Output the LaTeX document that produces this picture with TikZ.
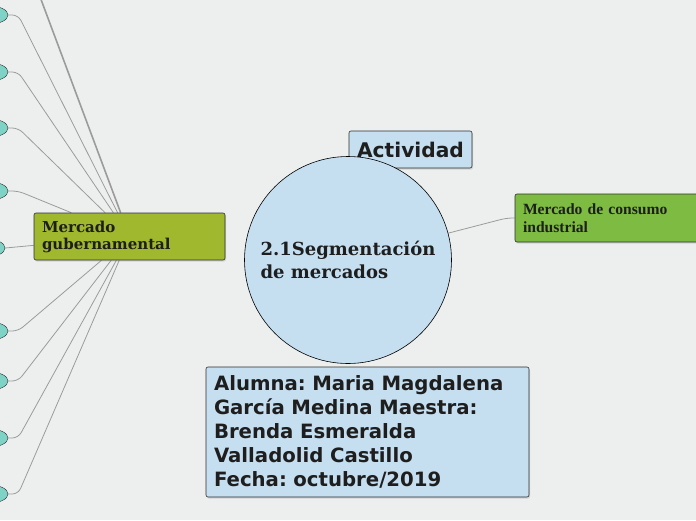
\documentclass[tikz,border=0pt]{standalone}
\usepackage{fontspec}
\setmainfont{DejaVu Serif}
\newfontfamily\mapsans{DejaVu Sans}
\newfontfamily\maptimes{Liberation Serif}
\usetikzlibrary{backgrounds,shapes.geometric,shadows}
\definecolor{MapBack}{HTML}{EDEFEF}
\definecolor{MapBlue}{HTML}{C5DFF1}
\definecolor{MapOlive}{HTML}{A0B82E}
\definecolor{MapGreen}{HTML}{7DBB42}
\definecolor{MapTeal}{HTML}{7ED3C6}
\definecolor{MapLine}{HTML}{9B9B9B}
\definecolor{MapEdge}{HTML}{2E2E2E}
\definecolor{MapText}{HTML}{1E1E1E}
\frenchspacing
\tikzset{
  topicbox/.style={draw=MapEdge,semithick,rounded corners=2pt,align=left,
    inner xsep=8pt,inner ysep=0pt,text=MapText,
    drop shadow={shadow xshift=1pt,shadow yshift=-1.5pt,opacity=.25}},
  olivebox/.style={topicbox,fill=MapOlive,font=\bfseries\fontsize{15}{17}\selectfont},
  greenbox/.style={topicbox,fill=MapGreen,font=\maptimes\bfseries\fontsize{15.6}{18}\selectfont},
  bluebox/.style={topicbox,fill=MapBlue,font=\mapsans\bfseries\fontsize{19.7}{24}\selectfont},
  central/.style={circle,draw=black,semithick,fill=MapBlue,align=left,inner sep=0pt,
    text=MapText,font=\bfseries\fontsize{18}{23}\selectfont},
  leaf/.style={ellipse,draw=MapEdge,fill=MapTeal,minimum width=36pt,minimum height=18pt,inner sep=0pt},
  leaflink/.style={draw=MapLine,line width=.8pt,rounded corners=6pt},
  mainlink/.style={draw=MapLine,line width=1.6pt}
}
\begin{document}
\begin{tikzpicture}[x=1pt,y=-1pt]
  \useasboundingbox (0,0) rectangle (696,520);

  \node[olivebox,text width=175pt,minimum height=47pt] (gob) at (129.5,236.5) {Mercado\\gubernamental};
  \node[greenbox,text width=174pt,minimum height=48pt] (indus) at (610,218) {Mercado de consumo\\industrial};
  \node[bluebox,align=center,inner xsep=0pt,minimum width=123pt,minimum height=37pt,
    font=\mapsans\bfseries\fontsize{20.2}{24}\selectfont] (act) at (410.5,149.5) {Actividad};
  \node[central,minimum size=207pt] (seg) at (348,260) {2.1Segmentación\\de mercados};
  \node[bluebox,text width=307pt,minimum height=130pt] (info) at (367.5,432)
    {Alumna: Maria Magdalena\\García Medina Maestra:\\Brenda Esmeralda\\Valladolid Castillo\\Fecha: octubre/2019};

  % leaves on the left border
  \node[leaf] (l1) at (-10,15) {};
  \node[leaf] (l2) at (-10,72) {};
  \node[leaf] (l3) at (-10,128) {};
  \node[leaf] (l4) at (-10,191) {};
  \node[leaf] (l5) at (-13,248) {};
  \node[leaf] (l6) at (-10,331) {};
  \node[leaf] (l7) at (-10,381) {};
  \node[leaf] (l8) at (-10,438) {};
  \node[leaf] (l9) at (-10,494) {};
  \coordinate (up) at (30,-30);

  \begin{scope}[on background layer]
    \fill[MapBack] (0,0) rectangle (696,520);
    \draw[mainlink] (up) -- (gob);
    \draw[leaflink] (l1.east) -- ++(10,0) -- (gob);
    \draw[leaflink] (l2.east) -- ++(10,0) -- (gob);
    \draw[leaflink] (l3.east) -- ++(10,0) -- (gob);
    \draw[leaflink] (l4.east) -- ++(10,0) -- (gob);
    \draw[leaflink] (l5.east) -- (gob);
    \draw[leaflink] (l6.east) -- ++(10,0) -- (gob);
    \draw[leaflink] (l7.east) -- ++(10,0) -- (gob);
    \draw[leaflink] (l8.east) -- ++(10,0) -- (gob);
    \draw[leaflink] (l9.east) -- ++(10,0) -- (gob);
    \draw[leaflink] (seg.15) -- ([xshift=-8pt]indus.west) -- (indus.west);
  \end{scope}
\end{tikzpicture}
\end{document}
